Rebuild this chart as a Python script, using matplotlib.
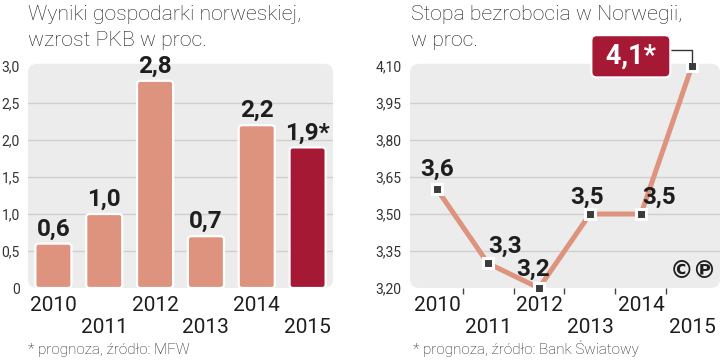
import matplotlib
matplotlib.use("Agg")
import matplotlib.pyplot as plt
from matplotlib.patches import FancyBboxPatch

# data
years = ["2010", "2011", "2012", "2013", "2014", "2015"]
gdp = [0.6, 1.0, 2.8, 0.7, 2.2, 1.9]
gdp_labels = ["0,6", "1,0", "2,8", "0,7", "2,2", "1,9*"]
unemp = [3.6, 3.3, 3.2, 3.5, 3.5, 4.1]
unemp_labels = ["3,6", "3,3", "3,2", "3,5", "3,5", " 4,1* "]
gdp_ticks = [0, 0.5, 1.0, 1.5, 2.0, 2.5, 3.0]
gdp_ticklabels = ["0", "0,5", "1,0", "1,5", "2,0", "2,5", "3,0"]
un_ticks = [3.20, 3.35, 3.50, 3.65, 3.80, 3.95, 4.10]
un_ticklabels = ["3,20", "3,35", "3,50", "3,65", "3,80", "3,95", "4,10"]

SALMON = "#DE937E"
DARKRED = "#A61934"
BG = "#ECECEC"
GRID = "#CFCFCF"
TXT = "#1E1E1E"

fig = plt.figure(figsize=(7.2, 3.6), dpi=100)
fig.patch.set_facecolor("white")


def background(ax, w_px, h_px):
    ax.set_facecolor("none")
    p = FancyBboxPatch((0, 0), 1, 1.01, boxstyle="round,pad=0,rounding_size=0.03",
                       mutation_aspect=w_px / h_px, transform=ax.transAxes,
                       fc=BG, ec="none", zorder=0, clip_on=False)
    ax.add_patch(p)
    for s in ax.spines.values():
        s.set_visible(False)


def stagger(ax):
    ticks = ax.xaxis.get_major_ticks()
    for i, t in enumerate(ticks):
        t.set_pad(6 if i % 2 == 0 else 21.5)


# ---- left: GDP bars
ax1 = fig.add_axes([28 / 720, 72 / 360, 305 / 720, 222 / 360])
background(ax1, 305, 222)
ax1.set_xlim(-0.5, 5.5)
ax1.set_ylim(0, 3.0)
for v in gdp_ticks[1:-1]:
    ax1.axhline(v, color=GRID, lw=1, zorder=0.5)
colors = [SALMON] * 5 + [DARKRED]
bars = ax1.bar(range(len(years)), gdp, width=0.71, color=colors)
for b, c in zip(bars, colors):
    b.set_visible(False)
    rb = FancyBboxPatch((b.get_x(), b.get_y()), b.get_width(), b.get_height(),
                        boxstyle="round,pad=0,rounding_size=0.07", mutation_aspect=0.6,
                        fc=c, ec="white", lw=1.6, zorder=2)
    ax1.add_patch(rb)
for i, (v, lab) in enumerate(zip(gdp, gdp_labels)):
    ax1.text(i, v + 0.04, lab, ha="center", va="bottom", fontsize=17.5,
             fontweight="bold", family="Roboto", color=TXT, zorder=3)
ax1.set_xticks(range(len(years)))
ax1.set_xticklabels(years, fontsize=15, family="Roboto", color=TXT)
ax1.tick_params(axis="x", length=0)
stagger(ax1)
ax1.set_yticks(gdp_ticks)
ax1.set_yticklabels(gdp_ticklabels, fontsize=10, family="Roboto", color="#333333")
ax1.tick_params(axis="y", length=0, pad=6)

# ---- right: unemployment line
ax2 = fig.add_axes([410 / 720, 72 / 360, 310 / 720, 222 / 360])
background(ax2, 310, 222)
ax2.set_xlim(-0.53, 5.55)
ax2.set_ylim(3.2, 4.1)
for v in un_ticks[1:-1]:
    ax2.axhline(v, color=GRID, lw=1, zorder=0.5)
x = list(range(len(years)))
ax2.plot(x, unemp, color=SALMON, lw=3.6, zorder=2, solid_joinstyle="miter",
         clip_on=False)
ax2.plot(x, unemp, ls="none", marker="s", ms=7, mfc="#3C3C3C", mec="white",
         mew=2.2, zorder=3, clip_on=False)
offsets = [(0, 6), (12, 4), (-4, 5), (-2, 4), (13, 4)]
for i in range(5):
    ax2.annotate(unemp_labels[i], (i, unemp[i]), xytext=offsets[i],
                 textcoords="offset points", ha="center", va="bottom",
                 fontsize=17.5, fontweight="bold", family="Roboto", color=TXT, zorder=4)
ax2.annotate(unemp_labels[5], (5, unemp[5]), xytext=(-44, 7),
             textcoords="offset points", ha="center", va="center",
             fontsize=19.5, fontweight="bold", family="Roboto", color="white",
             bbox=dict(boxstyle="round,pad=0.28,rounding_size=0.2", fc=DARKRED,
                       ec="white", lw=1.5),
             arrowprops=dict(arrowstyle="-", color="#333333", lw=1,
                             connectionstyle="angle,angleA=0,angleB=90,rad=0",
                             relpos=(1, 0.75), shrinkA=0, shrinkB=3),
             annotation_clip=False, zorder=5)
ax2.text(0.99, 0.075, "©℗", transform=ax2.transAxes, ha="right", va="center",
         fontsize=17, fontweight="bold", family="DejaVu Sans", color=TXT)
ax2.set_xticks(x)
ax2.set_xticklabels(years, fontsize=15, family="Roboto", color=TXT)
ax2.tick_params(axis="x", which="major", length=0)
ax2.set_xticks([i + 0.5 for i in x[:-1]], minor=True)
ax2.tick_params(axis="x", which="minor", length=4.5, width=1, color="#444444")
stagger(ax2)
ax2.set_yticks(un_ticks)
ax2.set_yticklabels(un_ticklabels, fontsize=10, family="Roboto", color="#333333")
ax2.tick_params(axis="y", length=0, pad=6)

# titles and footnotes
title_kw = dict(ha="left", va="baseline", fontsize=15.3, family="Roboto",
                fontweight="light", color=TXT)
fig.text(28 / 720, 1 - 20 / 360, "Wyniki gospodarki norweskiej,", **title_kw)
fig.text(28 / 720, 1 - 46 / 360, "wzrost PKB w proc.", **title_kw)
fig.text(411 / 720, 1 - 20 / 360, "Stopa bezrobocia w Norwegii,", **title_kw)
fig.text(411 / 720, 1 - 46 / 360, "w proc.", **title_kw)
note_kw = dict(ha="left", va="baseline", fontsize=11, family="Roboto",
               fontweight="light", color=TXT)
fig.text(28 / 720, 1 - 354 / 360, "* prognoza, źródło: MFW", **note_kw)
fig.text(413 / 720, 1 - 354 / 360, "* prognoza, źródło: Bank Światowy", **note_kw)

fig.savefig("out.png", dpi=100)
